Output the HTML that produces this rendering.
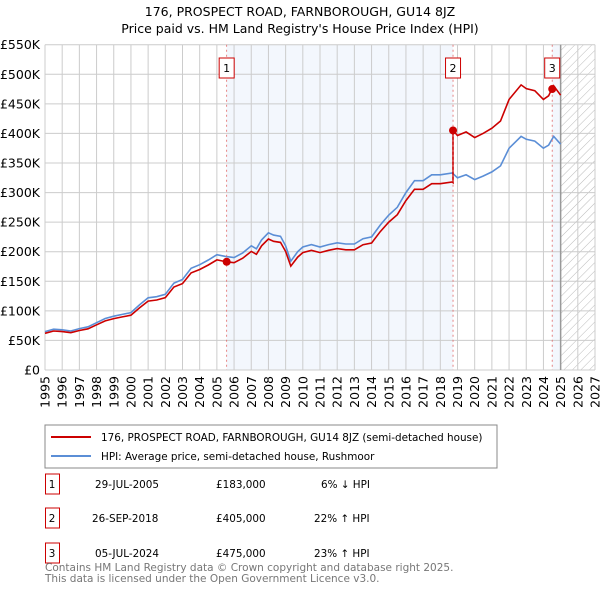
<!DOCTYPE html>
<html><head><meta charset="utf-8"><style>
body{margin:0;background:#fff;width:600px;height:590px;overflow:hidden;font-family:"Liberation Sans","DejaVu Sans",sans-serif}
svg text{font-family:"DejaVu Sans","Liberation Sans",sans-serif}
</style></head><body>
<svg id="c" width="600" height="590" xmlns="http://www.w3.org/2000/svg">
<text x="300" y="16" text-anchor="middle" font-size="12.5" fill="#000">176, PROSPECT ROAD, FARNBOROUGH, GU14 8JZ</text>
<text x="300" y="33" text-anchor="middle" font-size="12.5" fill="#000">Price paid vs. HM Land Registry's House Price Index (HPI)</text>
<defs><pattern id="hatch" width="6" height="6" patternUnits="userSpaceOnUse" patternTransform="rotate(45)"><line x1="0" y1="0" x2="0" y2="6" stroke="#bbb" stroke-width="1"/></pattern></defs>
<g id="plot"></g>
<rect x="45" y="425" width="452" height="43" fill="#fff" stroke="#888"/>
<line x1="51" y1="437" x2="91" y2="437" stroke="#cc0000" stroke-width="2"/>
<text x="101" y="441" font-size="10.4">176, PROSPECT ROAD, FARNBOROUGH, GU14 8JZ (semi-detached house)</text>
<line x1="51" y1="456" x2="91" y2="456" stroke="#5b8ed6" stroke-width="2"/>
<text x="101" y="460" font-size="10.4">HPI: Average price, semi-detached house, Rushmoor</text>
<g font-size="10.4">
<rect x="45.5" y="474" width="14" height="20" fill="#fff" stroke="#cc0000"/><text x="52" y="488" text-anchor="middle">1</text>
<text x="95" y="488">29-JUL-2005</text><text x="216" y="488">£183,000</text><text x="321" y="488">6% ↓ HPI</text>
<rect x="45.5" y="508" width="14" height="20" fill="#fff" stroke="#cc0000"/><text x="52" y="522" text-anchor="middle">2</text>
<text x="92" y="522">26-SEP-2018</text><text x="216" y="522">£405,000</text><text x="314" y="522">22% ↑ HPI</text>
<rect x="45.5" y="543" width="14" height="20" fill="#fff" stroke="#cc0000"/><text x="52" y="557" text-anchor="middle">3</text>
<text x="95" y="557">05-JUL-2024</text><text x="216" y="557">£475,000</text><text x="314" y="557">23% ↑ HPI</text>
</g>
<text x="45" y="571" font-size="10.5" fill="#777">Contains HM Land Registry data © Crown copyright and database right 2025.</text>
<text x="45" y="582" font-size="10.5" fill="#777">This data is licensed under the Open Government Licence v3.0.</text>
</svg>
<script>
const hpiYears=[1995,1995.5,1996,1996.5,1997,1997.5,1998,1998.5,1999,1999.5,2000,2000.5,2001,2001.5,2002,2002.5,2003,2003.5,2004,2004.5,2005,2005.5,2006,2006.5,2007,2007.3,2007.6,2008,2008.3,2008.7,2009,2009.3,2009.7,2010,2010.5,2011,2011.5,2012,2012.5,2013,2013.5,2014,2014.5,2015,2015.5,2016,2016.5,2017,2017.5,2018,2018.7,2019,2019.5,2020,2020.5,2021,2021.5,2022,2022.7,2023,2023.5,2024,2024.3,2024.6,2025];
const hpiValues=[65,69,68,66,70,73,80,87,91,94,97,110,122,124,128,147,153,172,178,186,195,192,190,198,210,205,220,232,228,226,210,184,200,208,212,208,212,215,213,213,222,225,245,262,275,300,320,320,330,330,333,325,330,322,328,335,345,375,395,390,387,375,380,395,382];
const saleYears=[2005.57,2018.74,2024.51];
const salePrices=[183,405,475];
const yTicks=[0,50,100,150,200,250,300,350,400,450,500,550];
const xTicks=[1995,1996,1997,1998,1999,2000,2001,2002,2003,2004,2005,2006,2007,2008,2009,2010,2011,2012,2013,2014,2015,2016,2017,2018,2019,2020,2021,2022,2023,2024,2025,2026,2027];
const X0=45,X1=595,Y0=370,Y1=44.7;
const xs=y=>X0+(y-1995)/(2027-1995)*(X1-X0);
const ys=v=>Y0-v/550*(Y0-Y1);
const NS="http://www.w3.org/2000/svg";
const g=document.getElementById('plot');
function mk(t,a,p){const e=document.createElementNS(NS,t);for(const k in a)e.setAttribute(k,a[k]);(p||g).appendChild(e);return e;}
function hpiAt(y){for(let i=0;i<hpiYears.length-1;i++){if(y<=hpiYears[i+1]){const t=(y-hpiYears[i])/(hpiYears[i+1]-hpiYears[i]);return hpiValues[i]+t*(hpiValues[i+1]-hpiValues[i]);}}return hpiValues[hpiValues.length-1];}
let r=mk('rect',{x:xs(saleYears[0]),y:Y1,width:xs(saleYears[1])-xs(saleYears[0]),height:Y0-Y1,fill:'#eef3fc',opacity:0.7});

r=mk('rect',{x:xs(saleYears[2]),y:Y1,width:xs(2025)-xs(saleYears[2]),height:Y0-Y1,fill:'#eef3fc',opacity:0.7});

r=mk('rect',{x:xs(2025),y:Y1,width:X1-xs(2025),height:Y0-Y1,fill:'url(#hatch)'});

yTicks.forEach(v=>{const l=mk('line',{x1:X0,x2:X1,y1:ys(v),y2:ys(v),stroke:'#ccc'});

const t=mk('text',{x:40,y:ys(v)+4.5,'text-anchor':'end','font-size':12.5});t.textContent=v===0?'£0':'£'+v+'K';
});
xTicks.forEach(v=>{const l=mk('line',{x1:xs(v),x2:xs(v),y1:Y1,y2:Y0,stroke:'#ccc'});

const t=mk('text',{x:0,y:0,'text-anchor':'end','font-size':12.5,transform:`translate(${xs(v)+4.5},376) rotate(-90)`});t.textContent=v;
});
const bd=mk('line',{x1:xs(2025),x2:xs(2025),y1:Y1,y2:Y0,stroke:'#999','stroke-width':1.5});

let d=hpiYears.map((y,i)=>(i?'L':'M')+xs(y).toFixed(1)+','+ys(hpiValues[i]).toFixed(1)).join('');
const hl=mk('path',{d:d,fill:'none',stroke:'#5b8ed6','stroke-width':1.6});

let pts=[];
hpiYears.forEach((y,i)=>{let k=0;for(let j=0;j<saleYears.length;j++)if(y>=saleYears[j])k=j;
if(i>0&&saleYears.some(s=>s>hpiYears[i-1]&&s<=y)){saleYears.forEach((s,j)=>{if(s>hpiYears[i-1]&&s<=y){const prev=j>0?j-1:0;pts.push([s,salePrices[prev]*hpiAt(s)/hpiAt(saleYears[prev])]);pts.push([s,salePrices[j]]);}});}
pts.push([y,salePrices[k]*hpiValues[i]/hpiAt(saleYears[k])]);});
d=pts.map((p,i)=>(i?'L':'M')+xs(p[0]).toFixed(1)+','+ys(p[1]).toFixed(1)).join('');
const pl=mk('path',{d:d,fill:'none',stroke:'#cc0000','stroke-width':1.6});

saleYears.forEach((s,j)=>{
const vl=mk('line',{x1:xs(s),x2:xs(s),y1:Y1,y2:Y0,stroke:'#e06666','stroke-dasharray':'2,3','stroke-width':0.8});

const c=mk('circle',{cx:xs(s),cy:ys(salePrices[j]),r:4,fill:'#cc0000'});

const b=mk('rect',{x:xs(s)-7.5,y:58,width:15,height:20,fill:'#fff',stroke:'#cc0000'});

const t=mk('text',{x:xs(s),y:72,'text-anchor':'middle','font-size':11});t.textContent=j+1;
});
</script>
</body></html>
